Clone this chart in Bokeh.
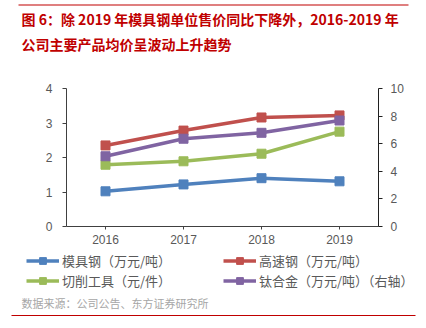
from bokeh.plotting import figure
from bokeh.models import (Range1d, LinearAxis, Legend, LegendItem, FixedTicker, Label)
from bokeh.layouts import column
from bokeh.embed import file_html
from bokeh.resources import INLINE

years = ["2016", "2017", "2018", "2019"]
mould_steel = [1.02, 1.22, 1.40, 1.31]
hss = [2.35, 2.78, 3.16, 3.22]
cutting_tools = [1.79, 1.89, 2.11, 2.75]
titanium = [5.09, 6.36, 6.79, 7.68]

names = ["模具钢（万元/吨）", "高速钢（万元/吨）", "切削工具（元/件）", "钛合金（万元/吨）（右轴）"]
colors = ["#4F81BD", "#C0504D", "#9BBB59", "#8064A2"]

title1 = "图 6：除 2019 年模具钢单位售价同比下降外，2016-2019 年"
title2 = "公司主要产品均价呈波动上升趋势"
source = "数据来源：公司公告、东方证券研究所"

cjk = "Noto Sans CJK SC"
RED = "#C00000"
W = 426


def blank(h):
    f = figure(width=W, height=h, x_range=Range1d(0, W), y_range=Range1d(0, h),
               x_axis_type=None, y_axis_type=None, output_backend="svg",
               toolbar_location=None, min_border=0, margin=(0, 0, 0, 0),
               frame_align=False)
    f.outline_line_color = None
    f.grid.visible = False
    return f


# ---- header ----
head = blank(70)
head.line([18, 408], [65.5, 65.5], color=RED, line_width=1.2)
for txt, y in [(title1, 52), (title2, 27)]:
    head.add_layout(Label(x=21, y=y, text=txt, text_font=cjk, text_font_size="14px",
                          text_font_style="bold", text_color=RED, text_baseline="middle"))

# ---- chart ----
p = figure(x_range=years, y_range=Range1d(0, 4), width=W, height=180,
           output_backend="svg", toolbar_location=None,
           min_border_left=66, min_border_right=48, min_border_top=18, min_border_bottom=24,
           margin=(0, 0, 0, 0), frame_align=False)
p.extra_y_ranges = {"right": Range1d(0, 10)}
p.outline_line_color = None
p.xgrid.visible = False
p.ygrid.visible = False

tick_font = "Liberation Sans"
p.yaxis[0].ticker = FixedTicker(ticks=[0, 1, 2, 3, 4])
p.yaxis.major_label_standoff = 10
for ax in p.xaxis + p.yaxis:
    ax.major_label_text_font = tick_font
    ax.major_label_text_font_size = "12px"
    ax.major_label_text_color = "#595959"
    ax.axis_line_color = "#404040"
    ax.major_tick_line_color = "#404040"
    ax.minor_tick_line_color = None
    ax.major_tick_out = 4
    ax.major_tick_in = 0
p.xaxis.major_tick_out = 3

ra = LinearAxis(y_range_name="right", ticker=FixedTicker(ticks=[0, 2, 4, 6, 8, 10]))
ra.major_label_text_font = tick_font
ra.major_label_text_font_size = "12px"
ra.major_label_text_color = "#595959"
ra.axis_line_color = "#202020"
ra.major_tick_line_color = "#202020"
ra.minor_tick_line_color = None
ra.major_tick_out = 4
ra.major_tick_in = 0
ra.major_label_standoff = 8
p.add_layout(ra, "right")

series = [mould_steel, hss, cutting_tools, titanium]
for i, (vals, c) in enumerate(zip(series, colors)):
    kw = {"y_range_name": "right"} if i == 3 else {}
    p.line(years, vals, color=c, line_width=3.5, **kw)
    p.scatter(years, vals, marker="square", size=9, color=c, **kw)

# ---- legend + source ----
foot = blank(78)
items = []
for c, n in zip(colors, names):
    # legend swatches only (drawn outside the visible range)
    l = foot.line([-50, -40], [-50, -50], color=c, line_width=3.5)
    s = foot.scatter([-45], [-50], marker="square", size=8, color=c)
    items.append(LegendItem(label=n, renderers=[l, s]))
# legend fills column by column: reorder so rows read as in the original
order = [0, 2, 1, 3]
legend = Legend(items=[items[i] for i in order], ncols=2, location=(26, 38),
                label_text_font=cjk, label_text_font_size="13px",
                label_text_color="#595959", glyph_width=33, glyph_height=17,
                label_standoff=3, label_width=160, spacing=1, padding=0, margin=0,
                border_line_color=None, background_fill_alpha=0)
foot.add_layout(legend, "center")
foot.add_layout(Label(x=21, y=26, text=source, text_font=cjk, text_font_size="11px",
                      text_color="#A6A6A6", text_baseline="middle"))
foot.line([11, 415], [13, 13], color=RED, line_width=1.2)

layout = column(head, p, foot, spacing=0)
open("out.html", "w").write(file_html(layout, INLINE))
